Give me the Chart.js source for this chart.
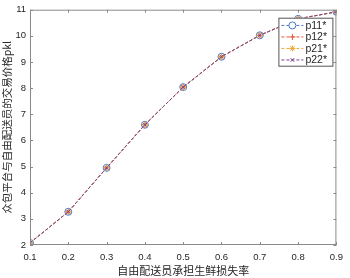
<!DOCTYPE html>
<html>
<head>
<meta charset="utf-8">
<script src="https://cdn.jsdelivr.net/npm/chart.js@4/dist/chart.umd.min.js"></script>
<style>
  html, body { margin: 0; padding: 0; background: #fff; }
  #wrap { width: 350px; height: 278px; }
</style>
</head>
<body>
<div id="wrap"><canvas id="chart"></canvas></div>
<script>
// loss rate borne by the freelance courier
const lossRate = [0.1, 0.2, 0.3, 0.4, 0.5, 0.6, 0.7, 0.8, 0.9];
// the four curves overlap exactly in the figure
const p11 = [2.08, 3.27, 4.95, 6.6, 8.04, 9.2, 10.02, 10.65, 10.92];
const p12 = [2.08, 3.27, 4.95, 6.6, 8.04, 9.2, 10.02, 10.65, 10.92];
const p21 = [2.08, 3.27, 4.95, 6.6, 8.04, 9.2, 10.02, 10.65, 10.92];
const p22 = [2.08, 3.27, 4.95, 6.6, 8.04, 9.2, 10.02, 10.65, 10.92];
const seriesNames = ['p11*', 'p12*', 'p21*', 'p22*'];
const xTitle = '自由配送员承担生鲜损失率';
const yTitle = '众包平台与自由配送员的交易价格pkl';

const numFont = '"Liberation Sans", Arial, sans-serif';
const cjkFont = '"Noto Sans CJK SC", sans-serif';
const axisGrey = '#8a8a8a';
const textCol = '#262626';

function series(label, values, color, style, radius, order) {
    return {
        label: label,
        data: values.map((v, i) => ({ x: lossRate[i], y: v })),
        borderColor: color,
        backgroundColor: 'transparent',
        borderWidth: 1,
        borderDash: [3, 2],
        pointStyle: style,
        pointRadius: radius,
        pointBorderColor: color,
        pointBorderWidth: 1,
        pointBackgroundColor: 'transparent',
        tension: 0,
        order: order
    };
}

const datasets = [
    series(seriesNames[0], p11, '#4a78c8', 'circle', 3.5, 3),
    series(seriesNames[1], p12, '#e0553a', 'cross', 3, 2),
    series(seriesNames[2], p21, '#eca838', 'star', 3, 1),
    series(seriesNames[3], p22, '#7e3f90', 'crossRot', 2.5, 0)
];

// box round the axes with ticks pointing inwards, MATLAB style
const boxPlugin = {
    id: 'box',
    afterDraw(chart) {
        const { ctx, chartArea: a, scales } = chart;
        ctx.save();
        ctx.strokeStyle = axisGrey;
        ctx.lineWidth = 1;
        ctx.strokeRect(a.left + 0.5, a.top + 0.5, a.right - a.left - 1, a.bottom - a.top - 1);
        const len = 3;
        ctx.beginPath();
        scales.x.ticks.forEach((t, i) => {
            const px = Math.round(scales.x.getPixelForTick(i)) + 0.5;
            ctx.moveTo(px, a.bottom); ctx.lineTo(px, a.bottom - len);
            ctx.moveTo(px, a.top); ctx.lineTo(px, a.top + len);
        });
        scales.y.ticks.forEach((t, i) => {
            const py = Math.round(scales.y.getPixelForTick(i)) + 0.5;
            ctx.moveTo(a.left, py); ctx.lineTo(a.left + len, py);
            ctx.moveTo(a.right, py); ctx.lineTo(a.right - len, py);
        });
        ctx.stroke();
        ctx.restore();
    }
};

// legend box in the upper right corner
const legendPlugin = {
    id: 'boxLegend',
    afterDraw(chart) {
        const { ctx, chartArea: a } = chart;
        const w = 54, rowH = 11.5;
        const x0 = a.right - 58, y0 = a.top + 8;
        const h = rowH * datasets.length + 2;
        ctx.save();
        ctx.fillStyle = '#fff';
        ctx.fillRect(x0, y0, w, h);
        ctx.strokeStyle = '#555';
        ctx.lineWidth = 1;
        ctx.strokeRect(x0 + 0.5, y0 + 0.5, w, h);
        chart.data.datasets.forEach((ds, i) => {
            const cy = y0 + 1.5 + rowH * i + rowH / 2;
            ctx.strokeStyle = ds.borderColor;
            ctx.setLineDash([3, 2]);
            ctx.beginPath();
            ctx.moveTo(x0 + 3, cy + 0.5);
            ctx.lineTo(x0 + 25, cy + 0.5);
            ctx.stroke();
            ctx.setLineDash([]);
            Chart.helpers.drawPoint(ctx, {
                pointStyle: ds.pointStyle, radius: ds.pointRadius, borderWidth: 1
            }, x0 + 14, cy + 0.5);
            ctx.fillStyle = textCol;
            ctx.font = '10.5px ' + numFont;
            ctx.textBaseline = 'middle';
            ctx.textAlign = 'left';
            ctx.fillText(ds.label, x0 + 27, cy + 1);
        });
        ctx.restore();
    }
};

new Chart(document.getElementById('chart').getContext('2d'), {
    type: 'line',
    data: { datasets: datasets },
    options: {
        responsive: true,
        maintainAspectRatio: false,
        animation: false,
        layout: { padding: { top: 5, right: 7, left: 0, bottom: 0 } },
        plugins: { legend: { display: false }, tooltip: { enabled: false } },
        scales: {
            x: {
                type: 'linear',
                min: 0.1, max: 0.9,
                afterFit: s => { s.height = 33; },
                border: { display: false },
                grid: { display: false, drawTicks: false },
                ticks: {
                    stepSize: 0.1,
                    padding: 7,
                    color: textCol,
                    font: { family: numFont, size: 9.5 },
                    maxRotation: 0,
                    callback: v => v.toFixed(1)
                },
                title: {
                    display: true,
                    text: xTitle,
                    color: textCol,
                    font: { family: cjkFont, size: 11 },
                    padding: { top: 0, bottom: 1 }
                }
            },
            y: {
                min: 2, max: 11,
                afterFit: s => { s.width = 30; },
                border: { display: false },
                grid: { display: false, drawTicks: false },
                ticks: {
                    stepSize: 1,
                    padding: 4,
                    color: textCol,
                    font: { family: numFont, size: 9.5 }
                },
                title: {
                    display: true,
                    text: yTitle,
                    color: textCol,
                    font: { family: cjkFont, size: 10.5 },
                    padding: { top: 1, bottom: 0 }
                }
            }
        }
    },
    plugins: [boxPlugin, legendPlugin]
});
</script>
</body>
</html>
